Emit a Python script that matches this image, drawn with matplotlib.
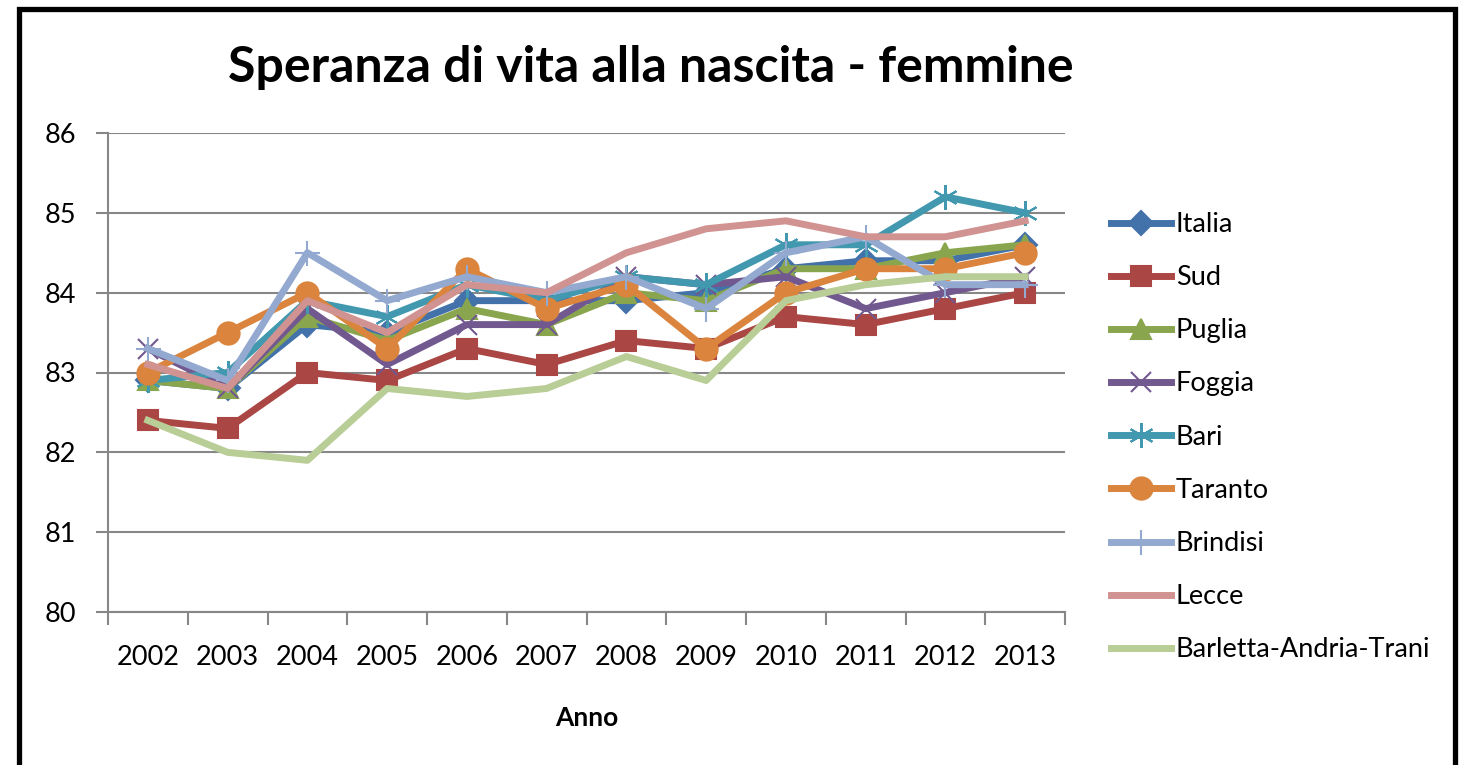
import numpy as np
import matplotlib
matplotlib.use("Agg")
import matplotlib.pyplot as plt
from matplotlib.patches import Rectangle

plt.rcParams['font.family'] = ['Lato', 'DejaVu Sans']

# --- data ---
years = ['2002', '2003', '2004', '2005', '2006', '2007',
         '2008', '2009', '2010', '2011', '2012', '2013']
italia   = [82.9, 82.8, 83.6, 83.5, 83.9, 83.9, 83.9, 84.0, 84.3, 84.4, 84.4, 84.6]
sud      = [82.4, 82.3, 83.0, 82.9, 83.3, 83.1, 83.4, 83.3, 83.7, 83.6, 83.8, 84.0]
puglia   = [82.9, 82.8, 83.7, 83.4, 83.8, 83.6, 84.0, 83.9, 84.3, 84.3, 84.5, 84.6]
foggia   = [83.3, 82.8, 83.8, 83.1, 83.6, 83.6, 84.2, 84.1, 84.2, 83.8, 84.0, 84.2]
bari     = [82.9, 83.0, 83.9, 83.7, 84.1, 83.9, 84.2, 84.1, 84.6, 84.6, 85.2, 85.0]
taranto  = [83.0, 83.5, 84.0, 83.3, 84.3, 83.8, 84.1, 83.3, 84.0, 84.3, 84.3, 84.5]
brindisi = [83.3, 82.9, 84.5, 83.9, 84.2, 84.0, 84.2, 83.8, 84.5, 84.7, 84.1, 84.1]
lecce    = [83.1, 82.8, 83.9, 83.5, 84.1, 84.0, 84.5, 84.8, 84.9, 84.7, 84.7, 84.9]
bat      = [82.4, 82.0, 81.9, 82.8, 82.7, 82.8, 83.2, 82.9, 83.9, 84.1, 84.2, 84.2]

names = ['Italia', 'Sud', 'Puglia', 'Foggia', 'Bari', 'Taranto',
         'Brindisi', 'Lecce', 'Barletta-Andria-Trani']
series = [italia, sud, puglia, foggia, bari, taranto, brindisi, lecce, bat]
colors = ['#4372AA', '#AA4643', '#89A54E', '#71588F', '#4198AF',
          '#DB843D', '#93A9CF', '#D19392', '#B9CD96']
markers = ['D', 's', '^', 'x', (6, 2, 0), 'o', '+', None, None]
msizes = [12, 15, 14, 15, 18, 16, 18, 0, 0]

fig = plt.figure(figsize=(14.59, 7.65), dpi=100)
ax = fig.add_axes([108/1459, 1 - 612/765, (1065 - 108)/1459, (612 - 133)/765])

x = np.arange(len(years))
for vals, name, c, m, ms in zip(series, names, colors, markers, msizes):
    ax.plot(x, vals, color=c, lw=5, marker=m, ms=ms, mew=1.5,
            mfc=c, mec=c, label=name, solid_joinstyle='round')

ax.set_xlim(-0.5, len(years) - 0.5)
ax.set_ylim(80, 86)
ax.set_yticks(range(80, 87))
ax.yaxis.grid(True, color='#878787', lw=1.5)
ax.set_axisbelow(True)

ax.set_xticks(np.arange(-0.5, len(years), 1.0))
ax.set_xticklabels([])
ax.set_xticks(x, minor=True)
ax.set_xticklabels(years, minor=True)
ax.tick_params(axis='x', which='major', length=9, width=1.5, color='#878787')
ax.tick_params(axis='x', which='minor', length=0, pad=24, labelsize=19.5)
ax.tick_params(axis='y', length=9, width=1.5, color='#878787', labelsize=19.5, pad=14)

for s in ['top', 'right']:
    ax.spines[s].set_visible(False)
for s in ['left', 'bottom']:
    ax.spines[s].set_color('#878787')
    ax.spines[s].set_linewidth(1.5)

ax.set_xlabel('Anno', fontsize=19, fontweight='bold', labelpad=26)

fig.text(651/1459, 1 - 67/765, 'Speranza di vita alla nascita - femmine',
         ha='center', va='center', fontsize=36, fontweight='bold')

ax.legend(loc='upper left', bbox_to_anchor=(1111/1459, 1 - 212/765),
          bbox_transform=fig.transFigure, frameon=False, fontsize=19.5,
          handlelength=2.2, handletextpad=0.2, labelspacing=1.04,
          borderpad=0, borderaxespad=0)

# chart border (runs off the bottom of the picture)
fig.patches.append(Rectangle((18.5/1459, -0.05), (1455 - 18.5)/1459, 1.05 - 9.5/765,
                             transform=fig.transFigure, fill=False,
                             edgecolor='black', lw=3.8, clip_on=False))

fig.savefig('out.png', dpi=100, facecolor='white')
